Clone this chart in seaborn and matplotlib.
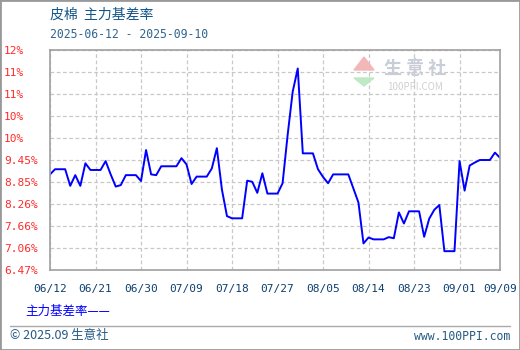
import numpy as np
import pandas as pd
import matplotlib
matplotlib.use("Agg")
import matplotlib.pyplot as plt
import seaborn as sns
from matplotlib.patches import Rectangle
from matplotlib.lines import Line2D

# ---- data ----
start_date = "2025-06-12"
basis_rate = [
    9.06, 9.20, 9.20, 9.20, 8.75, 9.04, 8.75, 9.36, 9.18, 9.18,
    9.18, 9.42, 9.06, 8.73, 8.77, 9.04, 9.04, 9.04, 8.88, 9.72,
    9.06, 9.04, 9.28, 9.28, 9.28, 9.28, 9.50, 9.33, 8.80, 9.00,
    9.00, 9.00, 9.22, 9.77, 8.65, 7.93, 7.87, 7.87, 7.87, 8.89,
    8.86, 8.56, 9.09, 8.54, 8.54, 8.54, 8.82, 10.13, 11.30, 11.93,
    9.63, 9.63, 9.63, 9.20, 8.99, 8.82, 9.06, 9.06, 9.06, 9.06,
    8.68, 8.30, 7.19, 7.35, 7.30, 7.30, 7.30, 7.36, 7.33, 8.03,
    7.73, 8.06, 8.06, 8.06, 7.37, 7.86, 8.10, 8.23, 6.98, 6.98,
    6.98, 9.42, 8.62, 9.30, 9.38, 9.45, 9.45, 9.45, 9.65, 9.51,
]
x_tick_labels = ["06/12", "06/21", "06/30", "07/09", "07/18", "07/27",
                 "08/05", "08/14", "08/23", "09/01", "09/09"]
y_tick_labels = ["6.47%", "7.06%", "7.66%", "8.26%", "8.85%", "9.45%",
                 "10%", "10%", "11%", "11%", "12%"]
y_min, y_max = 6.47, 12.43
title = "皮棉  主力基差率"
subtitle = "2025-06-12 - 2025-09-10"
legend_label = "主力基差率"
footer_left = "© 2025.09 生意社"
footer_right = "www.100PPI.com"

dates = pd.date_range(start_date, periods=len(basis_rate), freq="D")
df = pd.DataFrame({"date": dates, "rate": basis_rate})
x_ticks = pd.to_datetime(["2025/" + s for s in x_tick_labels], format="%Y/%m/%d")

# ---- style ----
sns.set_theme(style="white")
plt.rcParams["font.family"] = ["Noto Sans CJK SC", "DejaVu Sans"]
MONO = ["DejaVu Sans Mono", "Noto Sans CJK SC"]

fig = plt.figure(figsize=(5.2, 3.5), dpi=100)
W, H = 520, 350
ax = fig.add_axes([50 / W, 1 - 270 / H, 450 / W, 220 / H])

sns.lineplot(data=df, x="date", y="rate", ax=ax, color="#0000ff",
             linewidth=1.4, legend=False)

ax.set_xlim(x_ticks[0], x_ticks[-1])
ax.set_ylim(y_min, y_max)
ax.set_xlabel("")
ax.set_ylabel("")

y_ticks = np.linspace(y_min, y_max, len(y_tick_labels))
ax.set_yticks(y_ticks)
ax.set_yticklabels(y_tick_labels, family=MONO)
ax.set_xticks(x_ticks)
ax.set_xticklabels(x_tick_labels, family=MONO)

ax.tick_params(axis="y", length=0, pad=33, labelsize=8, labelcolor="#ff2a2a")
for t in ax.get_yticklabels():
    t.set_horizontalalignment("left")
ax.tick_params(axis="x", length=0, pad=10, labelsize=8, labelcolor="#0d3f6e")

ax.grid(True, color="#c8c8c8", linestyle=(0, (3, 2)), linewidth=0.9)
for s in ax.spines.values():
    s.set_color("#a0a0a0")
    s.set_linewidth(1.2)
    s.set_visible(True)

# watermark
fig.text(415 / W, 1 - 68 / H, "生 意 社", color="#c8cdd8", fontsize=13,
         ha="center", va="center", fontweight="bold")
fig.text(415 / W, 1 - 87 / H, "100PPI.COM", color="#d0d0d0", fontsize=7,
         ha="center", va="center")
fig.patches.append(plt.Polygon([[364 / W, 1 - 57 / H], [354 / W, 1 - 70 / H], [374 / W, 1 - 70 / H]],
                               closed=True, transform=fig.transFigure, color="#f2b8b8"))
fig.patches.append(plt.Polygon([[354 / W, 1 - 78 / H], [374 / W, 1 - 78 / H], [364 / W, 1 - 86 / H]],
                               closed=True, transform=fig.transFigure, color="#bfe8c4"))

# titles
fig.text(50 / W, 1 - 15 / H, title, color="#13568a", fontsize=10, ha="left", va="center")
fig.text(50 / W, 1 - 35 / H, subtitle, color="#2f6590", fontsize=8.3, ha="left", va="center",
         family=MONO)

# legend text
fig.text(25 / W, 1 - 311 / H, legend_label + "——", color="#0000ff", fontsize=9,
         ha="left", va="center")

# footer
fig.add_artist(Line2D([10 / W, 510 / W], [1 - 326 / H, 1 - 326 / H], color="#aaaaaa",
                      linewidth=1, transform=fig.transFigure))
fig.text(10 / W, 1 - 336 / H, footer_left, color="#245a85", fontsize=9, ha="left", va="center")
fig.text(510 / W, 1 - 336 / H, footer_right, color="#245a85", fontsize=8.3, ha="right",
         va="center", family=MONO)

# outer border
fig.patches.append(Rectangle((0, 0), 1, 1, transform=fig.transFigure, fill=False,
                             edgecolor="#999999", linewidth=2))

fig.savefig("out.png", dpi=100)
